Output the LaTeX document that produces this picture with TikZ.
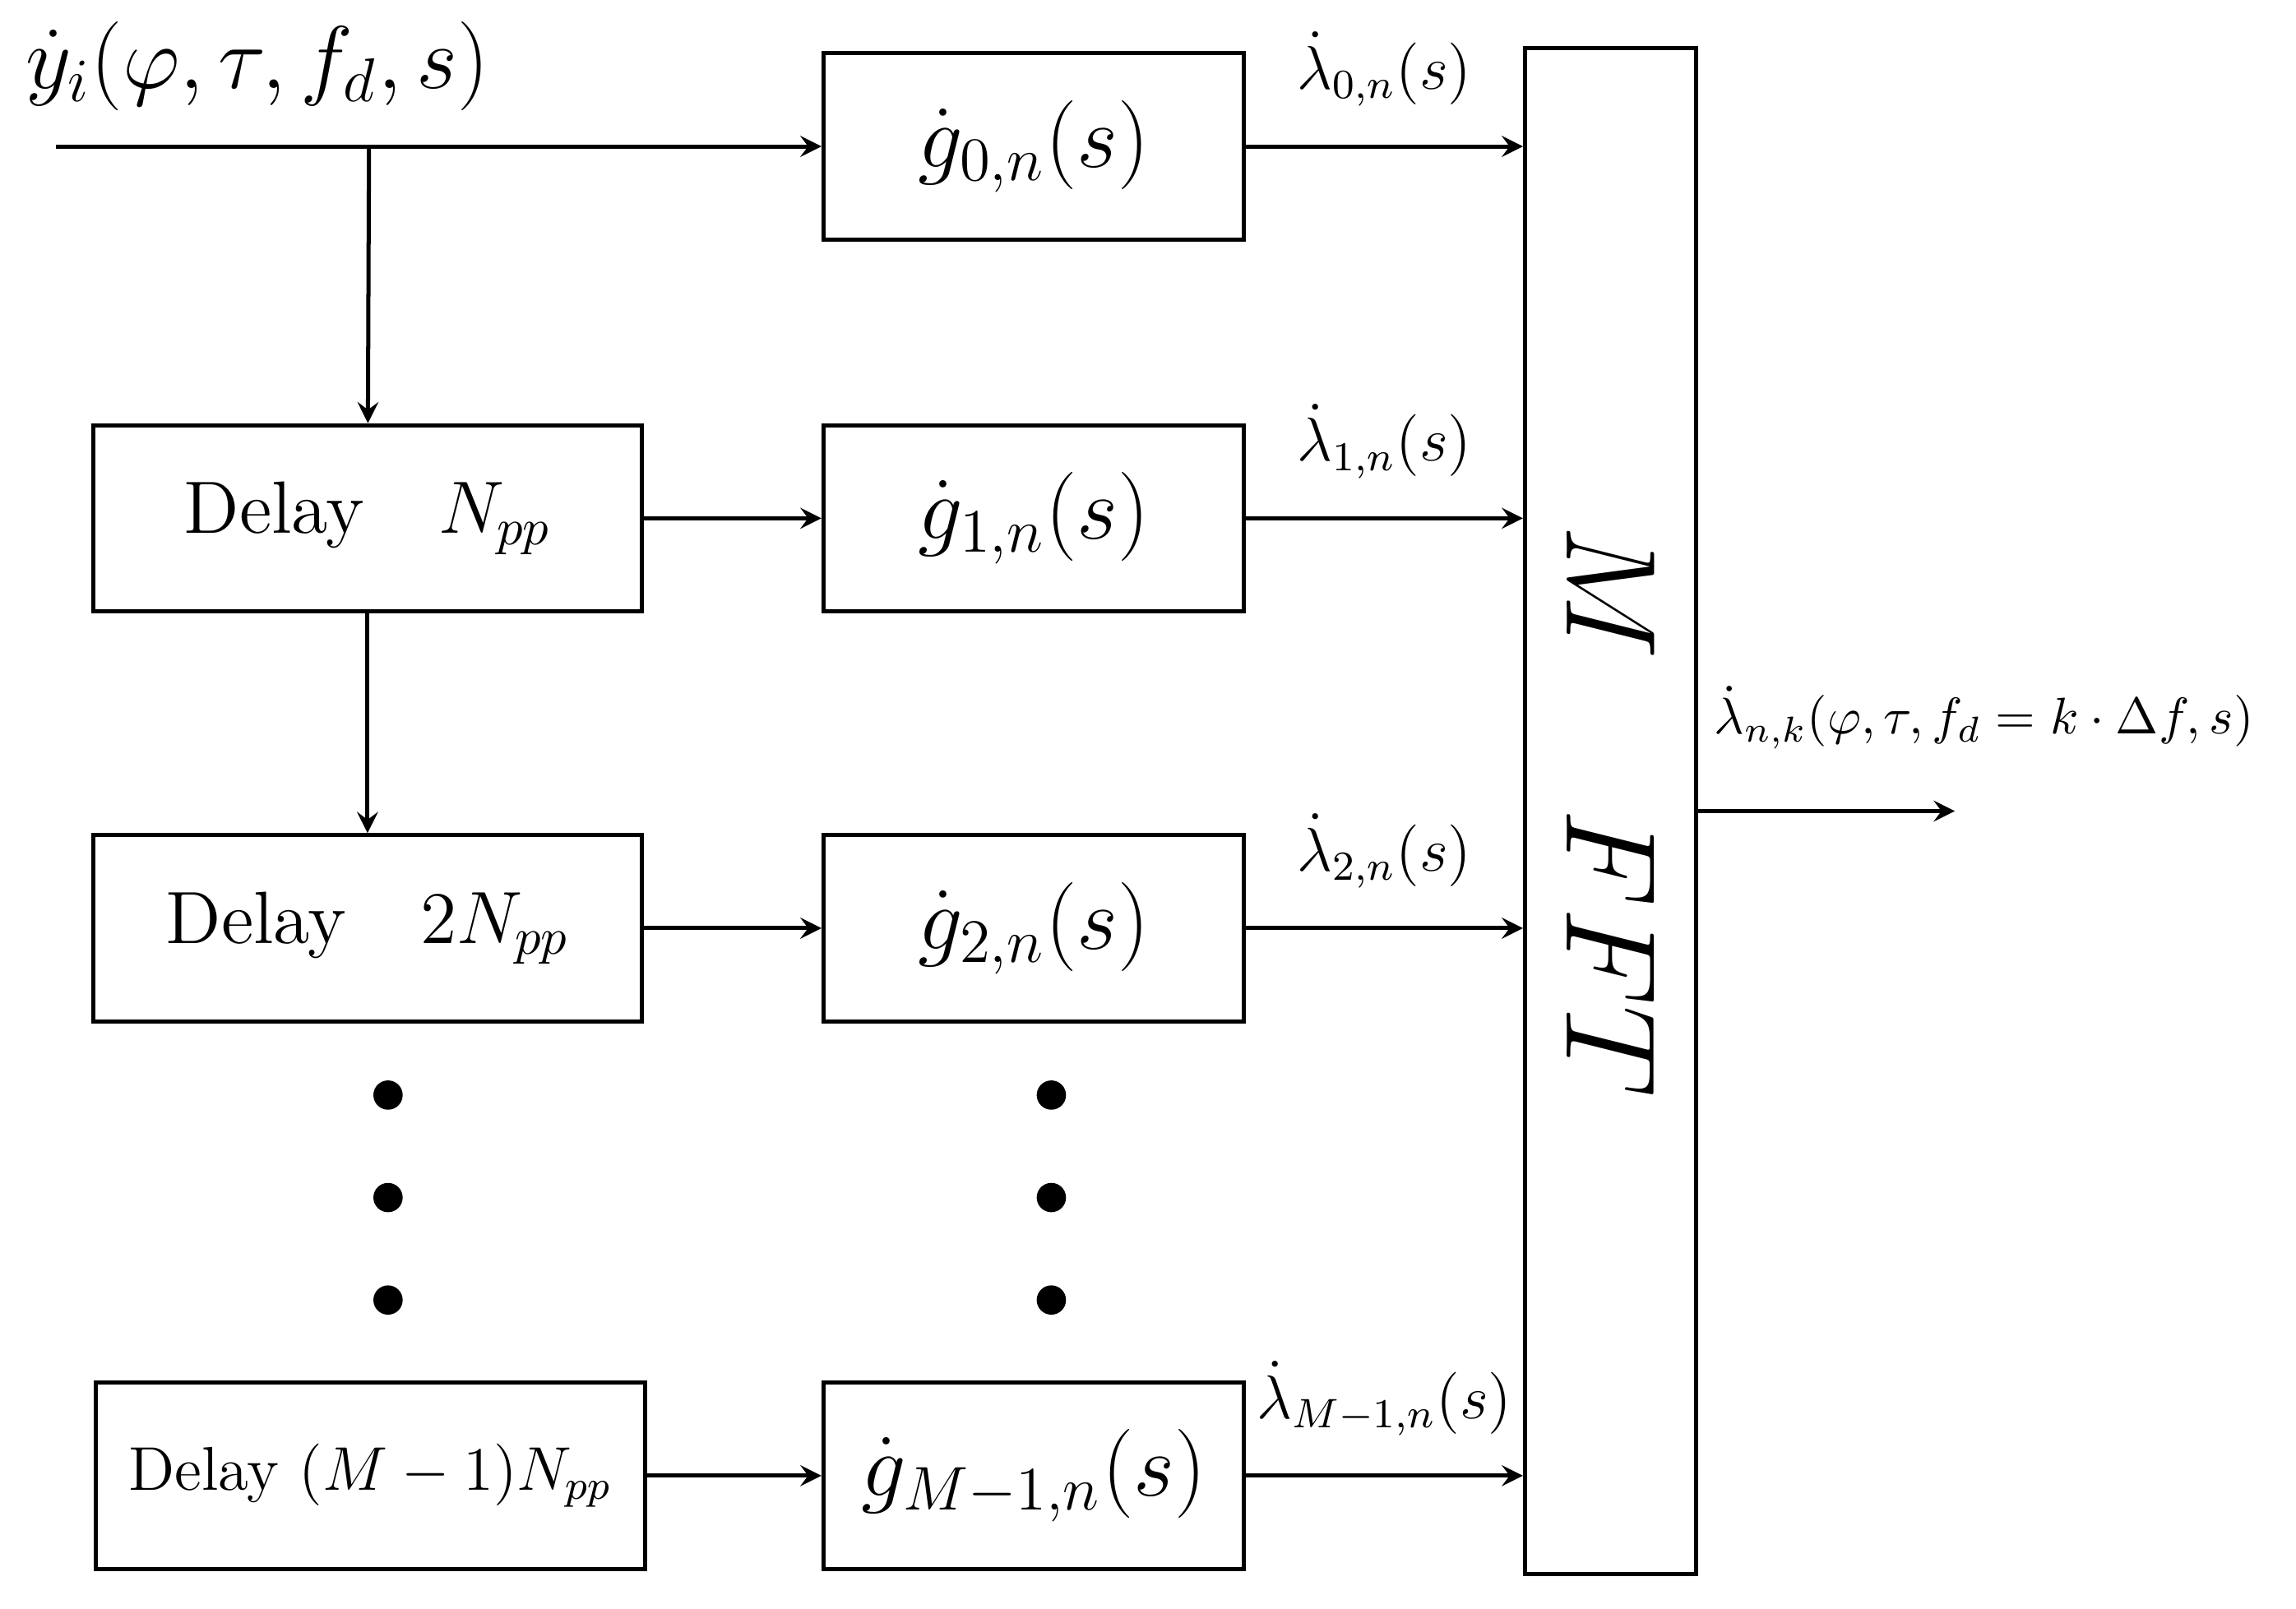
\documentclass[tikz,border=0pt]{standalone}
\usepackage{amsmath}
\usepackage{amssymb}
\usepackage{tikz}
\usetikzlibrary{positioning}
\tikzset{
  blk/.style={draw,thick,minimum height=1.27cm,inner sep=0pt},
  gblk/.style={blk,minimum width=2.87cm,font=\LARGE},
  dblk/.style={blk,minimum width=3.74cm,font=\Large},
  arr/.style={->,thick,>=stealth},
  dot/.style={circle,fill,inner sep=0pt,minimum size=0.2cm}
}
\begin{document}
\begin{tikzpicture}[x=0.01cm,y=-0.01cm]
  \useasboundingbox (0,0) rectangle (1568,1099);
  % boxes
  \node[gblk] (g0) at (706,100) {$\dot g_{0,n}(s)$};
  \node[gblk] (g1) at (706,354) {$\dot g_{1,n}(s)$};
  \node[gblk] (g2) at (706,634) {$\dot g_{2,n}(s)$};
  \node[gblk] (gm) at (706,1008) {$\dot g_{M-1,n}(s)$};
  \node[dblk] (d1) at (251,354) {Delay\quad$N_{pp}$};
  \node[dblk] (d2) at (251,634) {Delay\quad$2N_{pp}$};
  \node[dblk,minimum width=3.75cm,font=\large] (dm) at (253,1008) {Delay $(M-1)N_{pp}$};
  \node[draw,thick,minimum width=1.17cm,minimum height=10.42cm] (fft) at (1100,554) {};
  \node[rotate=-90,font=\fontsize{29}{34}\selectfont] (ffttxt) at (1100,554) {$M\quad FFT$};
  % input
  \node[font=\LARGE,anchor=west] (yin) at (5,45) {$\dot y_i(\varphi,\tau,f_d,s)$};
  \coordinate (in) at (38,100);
  \coordinate (br) at (252,100);
  \draw[arr] (in) -- (g0);
  \draw[arr] (br) -- (d1);
  \draw[arr] (d1) -- (d2);
  \draw[arr] (d1) -- (g1);
  \draw[arr] (d2) -- (g2);
  \draw[arr] (dm) -- (gm);
  % to FFT
  \foreach \g/\l in {g0/0,g1/1,g2/2}{
    \draw[arr] (\g.east) -- (\g.east -| fft.west)
      node[midway,above=4pt,font=\large] {$\dot\lambda_{\l,n}(s)$};
  }
  \draw[arr] (gm.east) -- (gm.east -| fft.west)
    node[midway,above=4pt,font=\large] {$\dot\lambda_{M-1,n}(s)$};
  % output
  \coordinate (out) at (1335,554);
  \draw[arr] (fft.east |- out) -- (out);
  \node[font=\normalsize,anchor=west,inner sep=0pt] (lout) at (1170,490) {$\dot\lambda_{n,k}(\varphi,\tau,f_d=k\cdot\Delta f,s)$};
  % dots
  \foreach \y in {748,818,888}{
    \node[dot] at (265,\y) {};
    \node[dot] at (718,\y) {};
  }
\end{tikzpicture}
\end{document}
